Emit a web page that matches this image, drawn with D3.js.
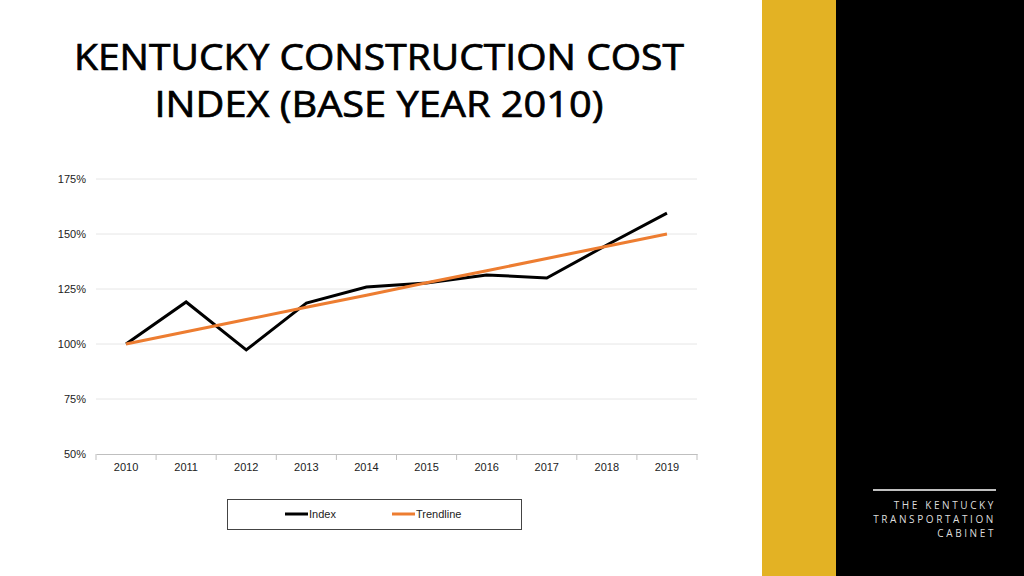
<!DOCTYPE html>
<html><head><meta charset="utf-8">
<script src="https://cdn.jsdelivr.net/npm/d3@7"></script>
<style>body{margin:0;background:#fff;}svg{display:block;}</style>
</head><body>
<svg id="c" width="1024" height="576"></svg>
<script>
const years = ["2010","2011","2012","2013","2014","2015","2016","2017","2018","2019"];
const indexValues = [100, 119.1, 97.3, 118.6, 125.9, 127.7, 131.4, 130.0, 145.0, 159.5];
const trendValues = [100, 105.6, 111.1, 116.7, 122.2, 127.8, 133.3, 138.9, 144.4, 150.0];
const yTicks = [50, 75, 100, 125, 150, 175];
const titleLines = ["KENTUCKY CONSTRUCTION COST", "INDEX (BASE YEAR 2010)"];
const brandLines = ["THE KENTUCKY", "TRANSPORTATION", "CABINET"];
const legendItems = [{name:"Index", color:"#000000"}, {name:"Trendline", color:"#ED7D31"}];

const svg = d3.select("#c");
// right panels
svg.append("rect").attr("x",762).attr("y",0).attr("width",75).attr("height",576).attr("fill","#E3B224");
svg.append("rect").attr("x",836).attr("y",0).attr("width",188).attr("height",576).attr("fill","#000");
svg.append("line").attr("x1",873).attr("x2",996).attr("y1",490).attr("y2",490).attr("stroke","#fff").attr("stroke-width",1.5);
svg.selectAll("text.brand").data(brandLines).join("text")
  .attr("x",996).attr("y",(d,i)=>509+i*14).attr("text-anchor","end")
  .attr("fill","#ddd").attr("font-family","'Open Sans', sans-serif").attr("font-size",10)
  .attr("letter-spacing","2.6px").text(d=>d);

// title
svg.selectAll("text.title").data(titleLines).join("text")
  .attr("x",379).attr("y",(d,i)=>70+i*47).attr("text-anchor","middle")
  .attr("font-family","'Open Sans', sans-serif").attr("font-size",36).attr("fill","#000")
  .attr("stroke","#000").attr("stroke-width",0.7)
  .attr("textLength",(d,i)=>i===0?610:449).attr("lengthAdjust","spacingAndGlyphs")
  .text(d=>d);

const x = d3.scaleBand().domain(years).range([96,697]);
const y = d3.scaleLinear().domain([50,175]).range([454,179]);

// gridlines
svg.selectAll("line.grid").data(yTicks.filter(t=>t>50)).join("line")
  .attr("x1",96).attr("x2",697).attr("y1",d=>y(d)).attr("y2",d=>y(d))
  .attr("stroke","#e6e6e6").attr("stroke-width",1);

// y labels
svg.selectAll("text.ylab").data(yTicks).join("text")
  .attr("x",86).attr("y",d=>y(d)+4).attr("text-anchor","end")
  .attr("font-family","'Liberation Sans', Arial, sans-serif").attr("font-size",11).attr("fill","#222")
  .text(d=>d+"%");

// x axis
const xAxis = svg.append("g").attr("transform","translate(0,454)")
  .call(d3.axisBottom(x).tickSize(0).tickPadding(9));
xAxis.select(".domain").attr("stroke","#bfbfbf");
xAxis.selectAll("text").attr("font-family","'Liberation Sans', Arial, sans-serif").attr("font-size",11).attr("fill","#222");
const bounds = years.map(d=>x(d)).concat([x.range()[1]]);
svg.selectAll("line.xt").data(bounds).join("line")
  .attr("x1",d=>d).attr("x2",d=>d).attr("y1",454).attr("y2",460)
  .attr("stroke","#bfbfbf");

const cx = d=>x(d)+x.bandwidth()/2;
const line = d3.line().x((d,i)=>cx(years[i])).y(d=>y(d));
svg.append("path").datum(indexValues).attr("d",line).attr("fill","none")
  .attr("stroke","#000").attr("stroke-width",3).attr("stroke-linejoin","miter");
svg.append("path").datum(trendValues).attr("d",line).attr("fill","none")
  .attr("stroke","#ED7D31").attr("stroke-width",3);

// legend
svg.append("rect").attr("x",227.5).attr("y",499.5).attr("width",294).attr("height",30)
  .attr("fill","#fff").attr("stroke","#444").attr("stroke-width",1);
const lx = [285, 392];
const lg = svg.selectAll("g.leg").data(legendItems).join("g")
  .attr("transform",(d,i)=>`translate(${lx[i]},514)`);
lg.append("line").attr("x1",0).attr("x2",23).attr("stroke",d=>d.color).attr("stroke-width",3);
lg.append("text").attr("x",24).attr("y",4).attr("font-family","'Liberation Sans', Arial, sans-serif")
  .attr("font-size",11).attr("fill","#222").text(d=>d.name);
</script>
</body></html>
